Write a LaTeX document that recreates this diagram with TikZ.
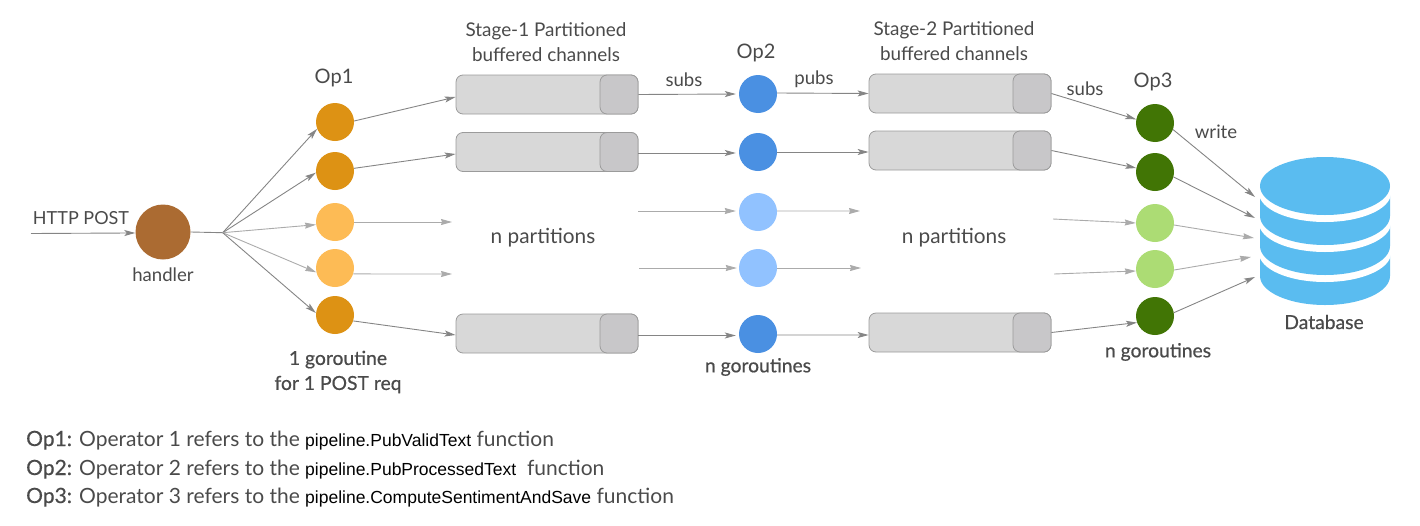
\documentclass[tikz,border=0pt]{standalone}
\usepackage{fontspec}
\setmainfont{Lato}
\newfontfamily\codefont{Liberation Sans}
\newfontfamily\medfont[FakeBold=0.6]{Lato}
\usetikzlibrary{arrows.meta,shapes.geometric}
\definecolor{txt}{HTML}{4A4A4A}
\definecolor{lineD}{HTML}{858585}
\definecolor{lineL}{HTML}{ABABAB}
\definecolor{dbblue}{HTML}{5ABCF0}
\definecolor{chanEdge}{HTML}{9B9B9B}
\definecolor{chanFill}{HTML}{D8D8D8}
\definecolor{chanCap}{HTML}{C8C7C9}
\definecolor{opA}{HTML}{DD9214}
\definecolor{opAl}{HTML}{FDBB55}
\definecolor{opB}{HTML}{4A90E2}
\definecolor{opBl}{HTML}{91C2FF}
\definecolor{opC}{HTML}{417505}
\definecolor{opCl}{HTML}{ACDC74}
\definecolor{hand}{HTML}{AB6B32}
\tikzset{
  op/.style={circle,minimum size=38pt,inner sep=0pt,fill=#1},
  body/.style={draw=chanEdge,fill=chanFill,line width=0.8pt,rounded corners=7pt,minimum width=182pt,minimum height=39pt,inner sep=0pt},
  capbox/.style={draw=chanEdge,fill=chanCap,line width=0.8pt,rounded corners=7pt,minimum width=38pt,minimum height=39pt,inner sep=0pt},
  dark/.style={draw=lineD,line width=0.9pt,-{Stealth[length=11pt,width=6pt,inset=2.5pt]}},
  lite/.style={draw=lineL,line width=0.9pt,-{Stealth[length=11pt,width=6pt,inset=1pt]}},
  plain/.style={draw=lineD,line width=0.9pt},
  lab/.style={text=txt,inner sep=0pt,font=\fontsize{#1}{#1}\selectfont,align=center},
  lab/.default=18.6,
  blab/.style={text=txt,inner sep=0pt,font=\medfont\fontsize{19.3}{25}\selectfont,align=center},
  note/.style={text=txt,inner sep=0pt,anchor=base west,font=\fontsize{21}{22}\selectfont},
}
\newcommand{\codetxt}[1]{{\codefont\fontsize{17.5}{20}\selectfont\color{black}#1}}
\newcommand{\opname}[1]{{\medfont #1}}
\begin{document}
\begin{tikzpicture}[x=1pt,y=-1pt]
\useasboundingbox (0,0) rectangle (1420,525);
% handler and hub
\node[circle,minimum size=55pt,inner sep=0pt,fill=hand] (h) at (163,232) {};
\coordinate (hub) at (222.7,232.7);
\coordinate (http) at (31,233.5);
% operators
\foreach \n/\y/\c in {1/122/opA,2/171/opA,3/222/opAl,4/268/opAl,5/315/opA}{\node[op=\c] (a\n) at (335,\y) {};}
\foreach \n/\y/\c in {1/94/opB,2/152/opB,3/212/opBl,4/268/opBl,5/334/opB}{\node[op=\c] (b\n) at (758,\y) {};}
\foreach \n/\y/\c in {1/123/opC,2/172/opC,3/223/opCl,4/269/opCl,5/316/opC}{\node[op=\c] (c\n) at (1155,\y) {};}
% channels
\foreach \n/\y in {1/94.5,2/152,5/333.5}{
  \node[body] (p\n) at (547,\y) {};
  \node[capbox,anchor=east] (q\n) at (p\n.east) {};
}
\foreach \n/\y in {1/93.5,2/150.5,5/332.5}{
  \node[body] (r\n) at (960,\y) {};
  \node[capbox,anchor=east] (s\n) at (r\n.east) {};
}
% free ends
\coordinate (e3) at (452,222);
\coordinate (e4) at (452,274);
\coordinate (f3) at (638,211);
\coordinate (f4) at (639,268);
\coordinate (g3) at (860,211);
\coordinate (g4) at (861,268);
\coordinate (k3) at (1053,219);
\coordinate (k4) at (1054,274);
\coordinate (d1) at (1255,197);
\coordinate (d2) at (1255,218);
\coordinate (d3) at (1254,238);
\coordinate (d4) at (1251,257);
\coordinate (d5) at (1255,277);
% connectors: input
\draw[dark] (http) -- (h.182);
\draw[plain] (h.east) -- (hub);
\draw[dark] (hub) -- (a1.-159);
\draw[dark] (hub) -- (a2.185);
\draw[lite] (hub) -- (a3.188);
\draw[lite] (hub) -- (a4.193);
\draw[dark] (hub) -- (a5.174);
% op1 to stage 1
\draw[dark] (a1.3) -- ([yshift=-2.5pt]p1.west);
\draw[dark] (a2.8) -- ([yshift=-2pt]p2.west);
\draw[lite] (a3.east) -- (e3);
\draw[lite] (a4.-18) -- (e4);
\draw[dark] (a5.-18) -- ([yshift=-1.5pt]p5.west);
% stage 1 to op2
\draw[dark] (q1.east) -- ([xshift=-3pt]b1.west);
\draw[dark] ([yshift=-1pt]q2.east) -- ([xshift=-3pt,yshift=-1pt]b2.west);
\draw[lite] (f3) -- ([xshift=-3pt,yshift=1pt]b3.west);
\draw[lite] (f4) -- ([xshift=-2pt]b4.west);
\draw[dark] ([yshift=-2pt]q5.east) -- ([xshift=-3pt,yshift=-1.5pt]b5.west);
% op2 to stage 2
\draw[dark] (b1.3) -- (r1.west);
\draw[dark] (b2.east) -- ([yshift=-1.5pt]r2.west);
\draw[lite] (b3.3) -- (g3);
\draw[lite] (b4.east) -- (g4);
\draw[dark] (b5.-3) -- ([yshift=-2.5pt]r5.west);
% stage 2 to op3
\draw[dark] (s1.east) -- (c1.169);
\draw[dark] (s2.east) -- (c2.168);
\draw[lite] (k3) -- (c3.west);
\draw[lite] (k4) -- (c4.186);
\draw[dark] (s5.east) -- (c5.200);
% op3 to db
\draw[dark] (c1.-20) -- (d1);
\draw[dark] (c2.-15) -- (d2);
\draw[lite] (c3.-6) -- (d3);
\draw[lite] (c4.-3) -- (d4);
\draw[dark] (c5.10) -- (d5);
% database (painted from the bottom layer up)
\fill[dbblue] (1260,230) -- (1260,276) arc[start angle=180,end angle=0,x radius=65,y radius=29] -- (1390,230) -- cycle;
\fill[white] (1259,225) -- (1259,253) arc[start angle=180,end angle=0,x radius=66,y radius=29] -- (1391,225) -- cycle;
\fill[dbblue] (1260,215) -- (1260,246) arc[start angle=180,end angle=0,x radius=65,y radius=29] -- (1390,215) -- cycle;
\fill[white] (1259,190) -- (1259,223) arc[start angle=180,end angle=0,x radius=66,y radius=29] -- (1391,190) -- cycle;
\fill[dbblue] (1260,190) -- (1260,216) arc[start angle=180,end angle=0,x radius=65,y radius=29] -- (1390,190) -- cycle;
\fill[white] (1259,186) -- (1259,193) arc[start angle=180,end angle=0,x radius=66,y radius=29] -- (1391,186) -- cycle;
\node[ellipse,minimum width=130pt,minimum height=58pt,inner sep=0pt,fill=dbblue] (db) at (1325,186) {};
% labels
\node[lab=18] (t1) at (81,218) {HTTP POST};
\node[lab] (t2) at (163,275) {handler};
\node[lab=20] (t3) at (334,78) {Op1};
\node[blab] (t4) at (338,372) {1 goroutine\\for 1 POST req};
\node[lab=18.9] (t5) at (546,42.5) {Stage-1 Partitioned\\[6pt]buffered channels};
\node[lab=20] (t6) at (756,53) {Op2};
\node[lab] (t7) at (684,80) {subs};
\node[lab] (t8) at (814,79) {pubs};
\node[lab=20.8] (t9) at (543,238) {n partitions};
\node[blab] (t10) at (758,367) {n goroutines};
\node[lab=18.9] (t11) at (954,41.5) {Stage-2 Partitioned\\[6pt]buffered channels};
\node[lab=20.8] (t12) at (954,238) {n partitions};
\node[lab] (t13) at (1085,89) {subs};
\node[lab=20] (t14) at (1153,82) {Op3};
\node[lab] (t15) at (1216,132) {write};
\node[blab] (t16) at (1158,352) {n goroutines};
\node[blab] (t17) at (1324,322) {Database};
\node[note] (n1) at (26,446) {\opname{Op1:} Operator 1 refers to the \codetxt{pipeline.PubValidText} function};
\node[note] (n2) at (26,475) {\opname{Op2:} Operator 2 refers to the \codetxt{pipeline.PubProcessedText}\ \ function};
\node[note] (n3) at (26,503) {\opname{Op3:} Operator 3 refers to the \codetxt{pipeline.ComputeSentimentAndSave} function};
\end{tikzpicture}
\end{document}
